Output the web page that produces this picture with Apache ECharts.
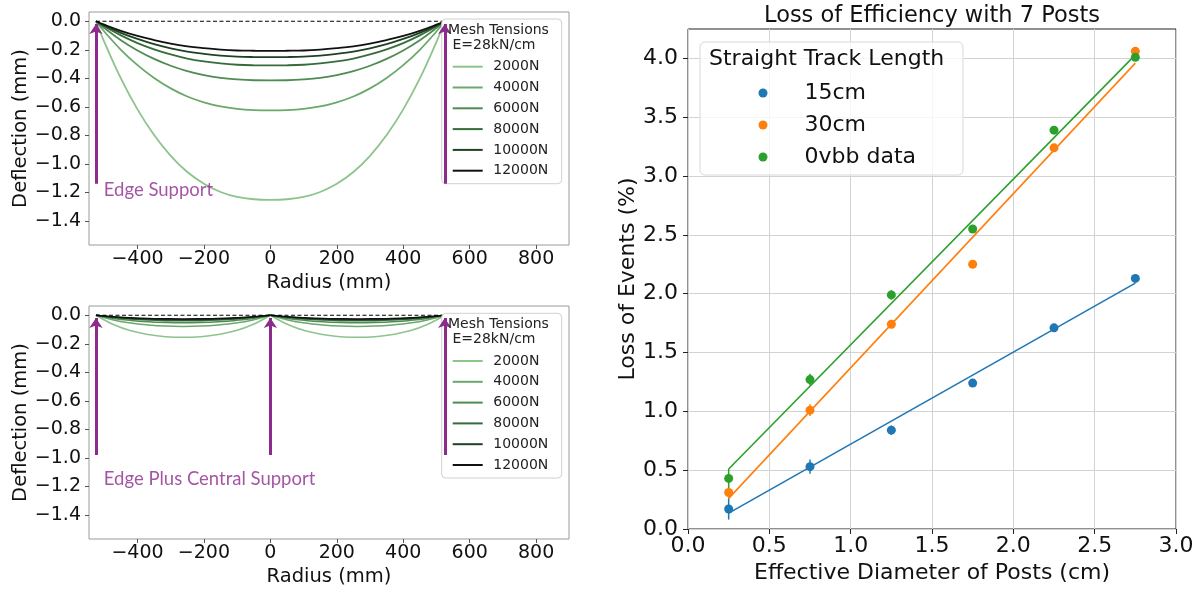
<!DOCTYPE html>
<html><head><meta charset="utf-8">
<script src="https://cdn.jsdelivr.net/npm/echarts@6/dist/echarts.min.js"></script>
<style>html,body{margin:0;padding:0;background:#fff}#c{width:1197px;height:592px}</style>
</head><body><div id="c"></div>
<script>
// ---------- data ----------
const tensions = ['2000N','4000N','6000N','8000N','10000N','12000N'];

// Top panel: edge support only
const edgeRadius = [-525,-500,-450,-400,-350,-300,-250,-200,-150,-100,-50,0,50,100,150,200,250,300,350,400,450,500,525];
const edge2000  = [0,-0.144,-0.401,-0.618,-0.798,-0.944,-1.058,-1.140,-1.198,-1.233,-1.249,-1.253,-1.249,-1.233,-1.198,-1.140,-1.058,-0.944,-0.798,-0.618,-0.401,-0.144,0];
const edge4000  = [0,-0.072,-0.200,-0.308,-0.398,-0.471,-0.528,-0.569,-0.598,-0.615,-0.623,-0.625,-0.623,-0.615,-0.598,-0.569,-0.528,-0.471,-0.398,-0.308,-0.200,-0.072,0];
const edge6000  = [0,-0.048,-0.133,-0.205,-0.264,-0.312,-0.350,-0.378,-0.397,-0.408,-0.414,-0.415,-0.414,-0.408,-0.397,-0.378,-0.350,-0.312,-0.264,-0.205,-0.133,-0.048,0];
const edge8000  = [0,-0.036,-0.099,-0.153,-0.197,-0.233,-0.262,-0.282,-0.296,-0.305,-0.309,-0.310,-0.309,-0.305,-0.296,-0.282,-0.262,-0.233,-0.197,-0.153,-0.099,-0.036,0];
const edge10000 = [0,-0.029,-0.081,-0.124,-0.161,-0.190,-0.213,-0.229,-0.241,-0.248,-0.251,-0.252,-0.251,-0.248,-0.241,-0.229,-0.213,-0.190,-0.161,-0.124,-0.081,-0.029,0];
const edge12000 = [0,-0.024,-0.067,-0.103,-0.132,-0.157,-0.176,-0.189,-0.199,-0.205,-0.207,-0.208,-0.207,-0.205,-0.199,-0.189,-0.176,-0.157,-0.132,-0.103,-0.067,-0.024,0];

// Bottom panel: edge plus central support
const centralRadius = [-525,-472.5,-420,-367.5,-315,-262.5,-210,-157.5,-105,-52.5,0,52.5,105,157.5,210,262.5,315,367.5,420,472.5,525];
const central2000  = [0,-0.065,-0.109,-0.135,-0.150,-0.155,-0.150,-0.135,-0.109,-0.065,0,-0.065,-0.109,-0.135,-0.150,-0.155,-0.150,-0.135,-0.109,-0.065,0];
const central4000  = [0,-0.033,-0.055,-0.068,-0.076,-0.078,-0.076,-0.068,-0.055,-0.033,0,-0.033,-0.055,-0.068,-0.076,-0.078,-0.076,-0.068,-0.055,-0.033,0];
const central6000  = [0,-0.022,-0.036,-0.045,-0.050,-0.052,-0.050,-0.045,-0.036,-0.022,0,-0.022,-0.036,-0.045,-0.050,-0.052,-0.050,-0.045,-0.036,-0.022,0];
const central8000  = [0,-0.016,-0.027,-0.034,-0.038,-0.039,-0.038,-0.034,-0.027,-0.016,0,-0.016,-0.027,-0.034,-0.038,-0.039,-0.038,-0.034,-0.027,-0.016,0];
const central10000 = [0,-0.013,-0.022,-0.027,-0.030,-0.031,-0.030,-0.027,-0.022,-0.013,0,-0.013,-0.022,-0.027,-0.030,-0.031,-0.030,-0.027,-0.022,-0.013,0];
const central12000 = [0,-0.011,-0.018,-0.023,-0.025,-0.026,-0.025,-0.023,-0.018,-0.011,0,-0.011,-0.018,-0.023,-0.025,-0.026,-0.025,-0.023,-0.018,-0.011,0];

const flatLineX = [-525, 525];
const edgeArrowX = [-525, 525];
const centralArrowX = [-525, 0, 525];
const edgeArrowY = [-1.14, -0.02];
const centralArrowY = [-0.98, -0.02];
const edgeNoteXY = [-503, -1.185];
const centralNoteXY = [-503, -1.15];

const leftYTicks = [-1.4,-1.2,-1.0,-0.8,-0.6,-0.4,-0.2,0.0];
const leftXTicks = [-400,-200,0,200,400,600,800];

// Right panel
const diameter = [0.25,0.75,1.25,1.75,2.25,2.75];
const loss15   = [0.17,0.53,0.84,1.24,1.71,2.13];
const loss30   = [0.31,1.01,1.74,2.25,3.24,4.06];
const lossData = [0.43,1.27,1.99,2.55,3.39,4.01];
const err15    = [0.09,0.06,0.04,0.03,0.03,0.02];
const err30    = [0.05,0.05,0.03,0.03,0.03,0.02];
const errData  = [0.08,0.05,0.04,0.03,0.03,0.03];
const fitX     = [0.25, 2.75];
const fit15    = [0.135, 2.09];
const fit30    = [0.26, 3.96];
const fitData  = [0.51, 4.03];
const rightYTicks = [0,0.5,1.0,1.5,2.0,2.5,3.0,3.5,4.0];
const trackNames = ['15cm','30cm','0vbb data'];

// ---------- styles ----------
const greens = ['#8cc48c','#6aa86b','#4f8c53','#356c3a','#1e4222','#111111'];
const tab = ['#1f77b4','#ff7f0e','#2ca02c'];
const purple = '#8d2b8d';
const FONT = 'DejaVu Sans';
const minus = s => String(s).replace('-', '\u2212');

const edgeSets = [edge2000,edge4000,edge6000,edge8000,edge10000,edge12000];
const centralSets = [central2000,central4000,central6000,central8000,central10000,central12000];

const series = [];
tensions.forEach((t,i)=>{
  series.push({type:'line', name:t, xAxisIndex:0, yAxisIndex:0, smooth:0.4, symbol:'none',
    data: edgeRadius.map((r,k)=>[r, edgeSets[i][k]]),
    lineStyle:{color:greens[i], width:1.8}, itemStyle:{color:greens[i]}, z:2, silent:true});
});
tensions.forEach((t,i)=>{
  const half = [[0,11],[10,21]];
  half.forEach(([a,b])=>{
    series.push({type:'line', name:t, xAxisIndex:1, yAxisIndex:1, smooth:0.4, symbol:'none',
      data: centralRadius.slice(a,b).map((r,k)=>[r, centralSets[i][a+k]]),
      lineStyle:{color:greens[i], width:1.5}, itemStyle:{color:greens[i]}, z:2, silent:true});
  });
});
[0,1].forEach(g=>{
  series.push({type:'line', name:'flat'+g, xAxisIndex:g, yAxisIndex:g, symbol:'none', silent:true,
    data: flatLineX.map(x=>[x,0]), lineStyle:{color:'#000', width:1.2, type:[4,2.5]}, z:3});
});
series.push({type:'lines', coordinateSystem:'cartesian2d', xAxisIndex:0, yAxisIndex:0, z:6, silent:true,
  symbol:['none','arrow'], symbolSize:10,
  lineStyle:{color:purple, width:3, opacity:1},
  data: edgeArrowX.map(x=>({coords:[[x,edgeArrowY[0]],[x,edgeArrowY[1]]]}))});
series.push({type:'lines', coordinateSystem:'cartesian2d', xAxisIndex:1, yAxisIndex:1, z:6, silent:true,
  symbol:['none','arrow'], symbolSize:10,
  lineStyle:{color:purple, width:3, opacity:1},
  data: centralArrowX.map(x=>({coords:[[x,centralArrowY[0]],[x,centralArrowY[1]]]}))});
const noteLabel = txt => ({show:true, position:'right', distance:0, formatter:txt,
  color:purple, fontFamily:'Lato', fontSize:18.5});
series.push({type:'scatter', name:'note0', xAxisIndex:0, yAxisIndex:0, symbolSize:1, silent:true,
  itemStyle:{color:'rgba(0,0,0,0)'}, data:[edgeNoteXY], label:noteLabel('Edge Support')});
series.push({type:'scatter', name:'note1', xAxisIndex:1, yAxisIndex:1, symbolSize:1, silent:true,
  itemStyle:{color:'rgba(0,0,0,0)'}, data:[centralNoteXY], label:noteLabel('Edge Plus Central Support')});

// right panel
const losses = [loss15, loss30, lossData];
const errs = [err15, err30, errData];
const fits = [fit15, fit30, fitData];
[0,1,2].forEach(i=>{
  series.push({type:'line', name:'fit'+i, xAxisIndex:2, yAxisIndex:2, symbol:'none', silent:true,
    data: fitX.map((x,k)=>[x, fits[i][k]]), lineStyle:{color:tab[i], width:1.6}, z:2});
  series.push({type:'custom', name:'err'+i, xAxisIndex:2, yAxisIndex:2, silent:true, z:3,
    data: diameter.map((x,k)=>[x, losses[i][k], errs[i][k]]),
    renderItem:(params, api)=>{
      const x = api.value(0), y = api.value(1), e = api.value(2);
      const p0 = api.coord([x, y-e]), p1 = api.coord([x, y+e]);
      return {type:'line', shape:{x1:p0[0],y1:p0[1],x2:p1[0],y2:p1[1]},
        style:{stroke:tab[i], lineWidth:1.5}};
    }});
  series.push({type:'scatter', name:trackNames[i], xAxisIndex:2, yAxisIndex:2, symbol:'circle', symbolSize:9,
    data: diameter.map((x,k)=>[x, losses[i][k]]), itemStyle:{color:tab[i], opacity:1}, z:4, silent:true});
});

const leftGridBase = {show:true, borderColor:'#9a9a9a', borderWidth:1, backgroundColor:'#fff'};
const leftX = gi => ({type:'value', gridIndex:gi, min:-546, max:899,
  axisLine:{show:false, onZero:false}, splitLine:{show:false},
  axisTick:{show:true, length:4, lineStyle:{color:'#555'}, customValues:leftXTicks},
  axisLabel:{customValues:leftXTicks, formatter:v=>minus(Math.round(v)), fontFamily:FONT, fontSize:19, color:'#111', margin:5},
  name:'Radius (mm)', nameLocation:'middle', nameGap:28, nameTextStyle:{fontFamily:FONT, fontSize:19.5, color:'#111', verticalAlign:'top'}});
const leftY = gi => ({type:'value', gridIndex:gi, min:-1.57, max:0.065,
  axisLine:{show:false, onZero:false}, splitLine:{show:false},
  axisTick:{show:true, length:4, lineStyle:{color:'#555'}, customValues:leftYTicks},
  axisLabel:{customValues:leftYTicks, formatter:v=>minus(v.toFixed(1)), fontFamily:FONT, fontSize:19, color:'#111', margin:8},
  name:'Deflection (mm)', nameLocation:'middle', nameGap:58, nameRotate:90, nameTextStyle:{fontFamily:FONT, fontSize:19.5, color:'#111'}});

const leftLegend = top => ({orient:'vertical', left:441.7, top:top, padding:[40.7,13.4,6,11],
  icon:'rect', itemWidth:30, itemHeight:2, itemGap:6.8, selectedMode:false,
  backgroundColor:'#fff', borderColor:'#d0d0d0', borderWidth:1, borderRadius:4,
  textStyle:{fontFamily:FONT, fontSize:14, color:'#222', lineHeight:14, padding:[0,0,0,5.6]},
  data: tensions});

const option = {
  animation:false,
  backgroundColor:'#fff',
  title:[
    {text:'Mesh Tensions\n E=28kN/cm', left:448, top:22.3, padding:0, z:8,
      textStyle:{fontFamily:FONT, fontSize:14, lineHeight:15.5, fontWeight:'normal', color:'#222'}},
    {text:'Mesh Tensions\n E=28kN/cm', left:448, top:316.5, padding:0, z:8,
      textStyle:{fontFamily:FONT, fontSize:14, lineHeight:15.5, fontWeight:'normal', color:'#222'}},
    {text:'Loss of Efficiency with 7 Posts', left:932, textAlign:'center', top:4, padding:0,
      textStyle:{fontFamily:FONT, fontSize:22.5, lineHeight:24, fontWeight:'normal', color:'#111'}},
    {text:'Straight Track Length', left:709, top:47, padding:0, z:8,
      textStyle:{fontFamily:FONT, fontSize:22, lineHeight:24, fontWeight:'normal', color:'#111'}}
  ],
  legend:[
    leftLegend(19),
    leftLegend(313.3),
    {orient:'vertical', left:700, top:42, padding:[40,47,7,58.5], icon:'circle',
      itemWidth:9, itemHeight:9, itemGap:10, selectedMode:false,
      backgroundColor:'rgba(255,255,255,0.8)', borderColor:'#d8d8d8', borderWidth:1, borderRadius:5,
      textStyle:{fontFamily:FONT, fontSize:22, color:'#111', lineHeight:22, padding:[0,0,0,32]},
      data: trackNames}
  ],
  grid:[
    Object.assign({left:89, top:12, width:480, height:233}, leftGridBase),
    Object.assign({left:89, top:306, width:480, height:233}, leftGridBase),
    {left:688, top:29, width:488, height:500, show:true, borderColor:'#222', borderWidth:1, backgroundColor:'#fff'}
  ],
  xAxis:[
    leftX(0), leftX(1),
    {type:'value', gridIndex:2, min:0, max:3, interval:0.5,
      axisLine:{show:false, onZero:false}, splitLine:{show:true, lineStyle:{color:'#d3d3d3', width:1}},
      axisTick:{show:true, length:5, lineStyle:{color:'#222'}},
      axisLabel:{formatter:v=>v.toFixed(1), fontFamily:FONT, fontSize:22, color:'#111', margin:6},
      name:'Effective Diameter of Posts (cm)', nameLocation:'middle', nameGap:28,
      nameTextStyle:{fontFamily:FONT, fontSize:22, color:'#111', verticalAlign:'top'}}
  ],
  yAxis:[
    leftY(0), leftY(1),
    {type:'value', gridIndex:2, min:0, max:4.25, interval:0.5,
      axisLine:{show:false, onZero:false}, splitLine:{show:true, lineStyle:{color:'#d3d3d3', width:1}},
      axisTick:{show:true, length:5, lineStyle:{color:'#222'}, customValues:rightYTicks},
      axisLabel:{customValues:rightYTicks, formatter:v=>v.toFixed(1), fontFamily:FONT, fontSize:22, color:'#111', margin:10},
      name:'Loss of Events (%)', nameLocation:'middle', nameGap:49, nameRotate:90,
      nameTextStyle:{fontFamily:FONT, fontSize:22, color:'#111'}}
  ],
  series: series
};
const chart = echarts.init(document.getElementById('c'), null, {renderer:'canvas'});
chart.setOption(option);
</script></body></html>
